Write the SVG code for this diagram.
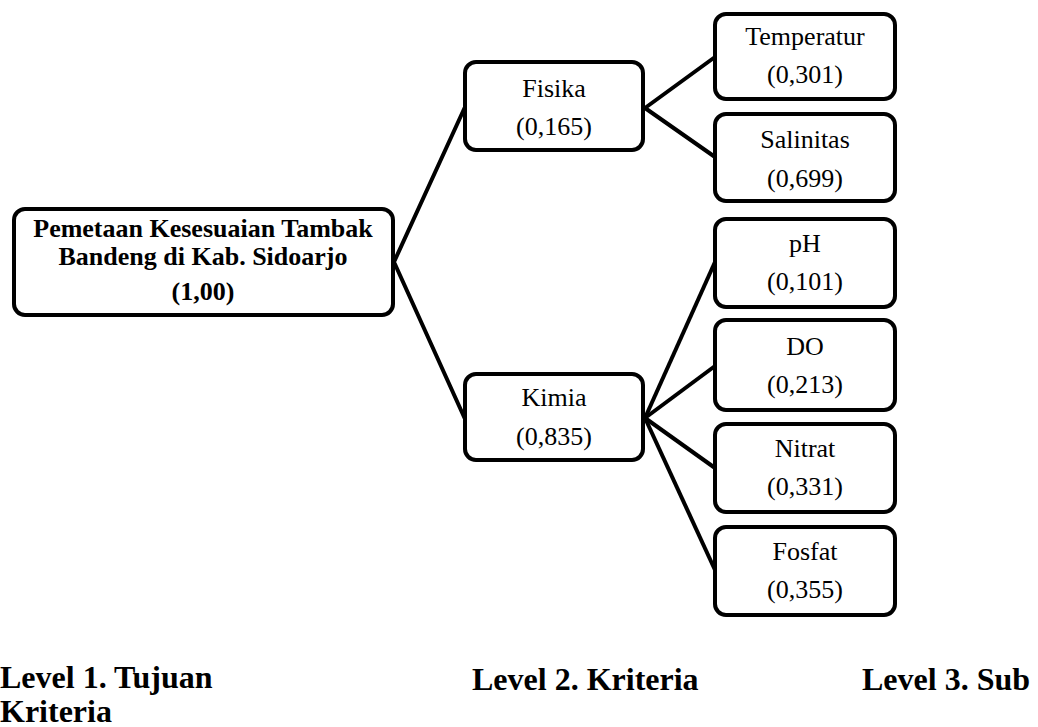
<svg xmlns="http://www.w3.org/2000/svg" width="1038" height="727" viewBox="0 0 1038 727">
<style>
.box{fill:#fff;stroke:#000;stroke-width:4}
.t{font-family:"Liberation Serif","Times New Roman",serif;font-size:26px;fill:#000;text-anchor:middle}
.b{font-weight:bold}
.lv{font-family:"Liberation Serif","Times New Roman",serif;font-size:32px;font-weight:bold;fill:#000}
.c{stroke:#000;stroke-width:4;fill:none;stroke-linejoin:round}
</style>
<rect width="1038" height="727" fill="#fff"/>
<g id="connectors">
<polyline class="c" points="465,107 394,262 465,419"/>
<polyline class="c" points="715,57 645,108 715,157"/>
<line class="c" x1="645" y1="418" x2="715" y2="262"/>
<line class="c" x1="645" y1="418" x2="715" y2="366"/>
<line class="c" x1="645" y1="418" x2="715" y2="468"/>
<line class="c" x1="645" y1="418" x2="715" y2="570"/>
</g>
<g id="root">
<rect class="box" x="14" y="209" width="379" height="106" rx="11"/>
<text class="t b" x="203" y="237">Pemetaan Kesesuaian Tambak</text>
<text class="t b" x="203" y="265">Bandeng di Kab. Sidoarjo</text>
<text class="t b" x="203" y="300">(1,00)</text>
</g>
<g id="fisika">
<rect class="box" x="465" y="62" width="178" height="88" rx="11"/>
<text class="t" x="554" y="97">Fisika</text>
<text class="t" x="554" y="135">(0,165)</text>
</g>
<g id="kimia">
<rect class="box" x="465" y="374" width="178" height="86" rx="11"/>
<text class="t" x="554" y="406">Kimia</text>
<text class="t" x="554" y="445">(0,835)</text>
</g>
<g id="temperatur">
<rect class="box" x="715" y="14" width="180" height="85" rx="11"/>
<text class="t" x="805" y="45">Temperatur</text>
<text class="t" x="805" y="83">(0,301)</text>
</g>
<g id="salinitas">
<rect class="box" x="715" y="114" width="180" height="87" rx="11"/>
<text class="t" x="805" y="148">Salinitas</text>
<text class="t" x="805" y="187">(0,699)</text>
</g>
<g id="ph">
<rect class="box" x="715" y="219" width="180" height="88" rx="11"/>
<text class="t" x="805" y="252">pH</text>
<text class="t" x="805" y="290">(0,101)</text>
</g>
<g id="do">
<rect class="box" x="715" y="320" width="180" height="90" rx="11"/>
<text class="t" x="805" y="355">DO</text>
<text class="t" x="805" y="393">(0,213)</text>
</g>
<g id="nitrat">
<rect class="box" x="715" y="424" width="180" height="88" rx="11"/>
<text class="t" x="805" y="457">Nitrat</text>
<text class="t" x="805" y="495">(0,331)</text>
</g>
<g id="fosfat">
<rect class="box" x="715" y="527" width="180" height="88" rx="11"/>
<text class="t" x="805" y="560">Fosfat</text>
<text class="t" x="805" y="598">(0,355)</text>
</g>
<g id="levels">
<text class="lv" x="0" y="688" font-size="30">Level 1. Tujuan</text>
<text class="lv" x="0" y="722" font-size="30">Kriteria</text>
<text class="lv" x="472" y="690">Level 2. Kriteria</text>
<text class="lv" x="862" y="690">Level 3. Sub</text>
</g>
</svg>
